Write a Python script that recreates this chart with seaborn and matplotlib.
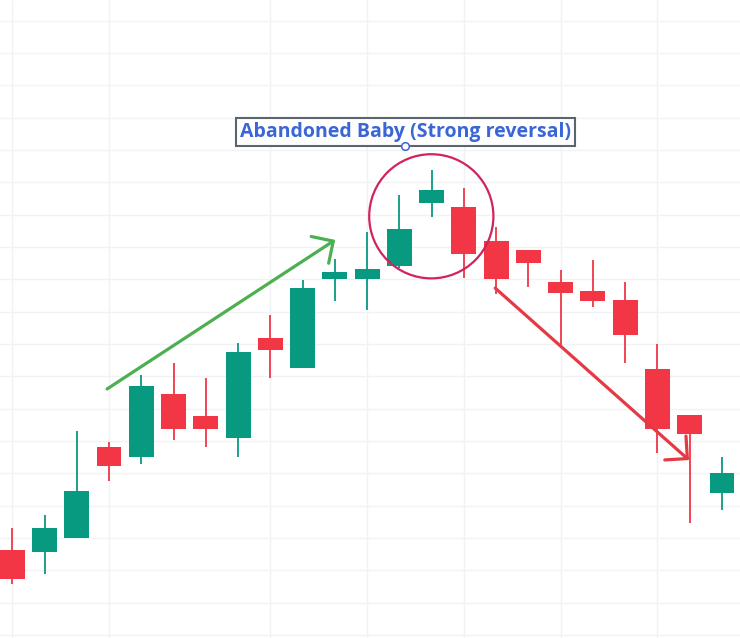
import matplotlib
matplotlib.use("Agg")
import matplotlib.pyplot as plt
import seaborn as sns
import numpy as np
import pandas as pd
from matplotlib.patches import Ellipse, FancyArrowPatch

# ---- data ----
opens  = [126.3, 125.8, 130.1, 158.2, 155.1, 174.5, 167.7, 161.0, 191.9, 182.7, 210.2, 210.2,
          214.2, 233.7, 232.4, 221.9, 219.1, 209.2, 206.4, 203.6, 182.3, 168.0, 144.0]
highs  = [133.1, 137.1, 163.1, 159.6, 180.3, 184.1, 179.5, 190.3, 199.0, 209.8, 216.2, 224.7,
          236.1, 243.8, 238.3, 226.2, 219.1, 212.9, 216.0, 209.2, 189.9, 168.0, 155.0]
lows   = [115.9, 119.0, 129.9, 147.7, 152.8, 160.4, 158.2, 155.1, 179.6, 182.5, 203.4, 200.5,
          213.5, 229.4, 210.5, 205.4, 207.7, 189.7, 201.5, 184.2, 156.4, 134.5, 138.6]
closes = [117.4, 133.0, 144.5, 152.4, 177.0, 163.8, 163.8, 187.5, 188.2, 207.2, 212.3, 213.1,
          225.6, 237.6, 217.9, 210.2, 215.0, 205.7, 203.4, 192.9, 163.7, 162.1, 150.0]
vgrid_idx = [0, 3, 8, 11, 14, 17, 20]
label_text = "Abandoned Baby (Strong reversal)"

df = pd.DataFrame({"open": opens, "high": highs, "low": lows, "close": closes})
df["idx"] = np.arange(len(df))

UP = "#089981"
DOWN = "#f23645"

sns.set_theme(style="white")
plt.rcParams['font.family'] = ['Open Sans', 'DejaVu Sans']

fig = plt.figure(figsize=(7.40, 6.38), dpi=100)
ax = fig.add_axes([0, 0, 1, 1])
ax.set_facecolor("white")

# grid
for g in vgrid_idx:
    ax.axvline(g, color="#f1f2f5", lw=1.0, zorder=0)
for yv in np.arange(100, 300, 10):
    ax.axhline(yv, color="#f1f2f5", lw=1.0, zorder=0)

colors = [UP if c >= o else DOWN for o, c in zip(df["open"], df["close"])]
ax.vlines(df["idx"], df["low"], df["high"], colors=colors, lw=1.3, zorder=2)
bottoms = np.minimum(df["open"], df["close"])
heights = np.abs(df["close"] - df["open"])
ax.bar(df["idx"], heights, bottom=bottoms, width=0.77, color=colors, zorder=3, linewidth=0)

ax.set_xlim(-0.381, 22.56)
ax.set_ylim(99.07, 296.4)
ax.set_xticks([]); ax.set_yticks([])
for s in ax.spines.values():
    s.set_visible(False)

# annotations
circ = Ellipse((12.99, 229.5), width=3.85, height=38.4, fill=False,
               edgecolor="#d0245a", lw=1.6, zorder=5)
ax.add_patch(circ)

ga = FancyArrowPatch((2.94, 176.1), (10.01, 222.2),
                     arrowstyle="->,head_length=1.15,head_width=1.15",
                     mutation_scale=10, color="#4caf50", lw=2.3, zorder=6,
                     shrinkA=0, shrinkB=0)
ax.add_patch(ga)
ra = FancyArrowPatch((14.97, 207.3), (20.98, 154.1),
                     arrowstyle="->,head_length=1.15,head_width=1.15",
                     mutation_scale=10, color="#e53945", lw=2.3, zorder=6,
                     shrinkA=0, shrinkB=0)
ax.add_patch(ra)

ax.text(12.18, 255.6, label_text, ha="center", va="center", fontsize=14,
        fontweight="bold", color="#3b66d6", zorder=7,
        bbox=dict(boxstyle="square,pad=0.2", facecolor="white",
                  edgecolor="#5b6470", linewidth=1.5))
ax.plot([12.18], [251.3], marker="o", markersize=5.5, mfc="white",
        mec="#3b66d6", mew=1.1, zorder=8)

fig.savefig("out.png", dpi=100)
